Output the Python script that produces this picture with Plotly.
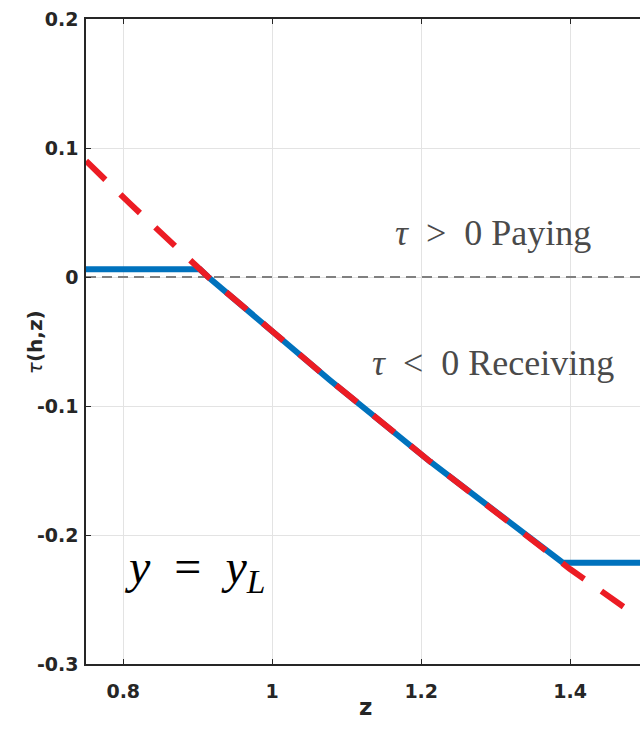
import plotly.graph_objects as go

# Axis extents and ticks
z_range = [0.75, 1.4937]
tau_range = [-0.3, 0.2]
z_ticks = [0.8, 1.0, 1.2, 1.4]
z_tick_text = ["0.8", "1", "1.2", "1.4"]
tau_ticks = [-0.3, -0.2, -0.1, 0.0, 0.1, 0.2]
tau_tick_text = ["-0.3", "-0.2", "-0.1", "0", "0.1", "0.2"]

# Unconstrained transfer schedule (red dashed)
z_free = [0.75, 0.8087, 0.903, 0.914, 1.0, 1.0775, 1.2117, 1.39, 1.3997, 1.4775, 1.4937]
tau_free = [0.090, 0.057, 0.006, 0.0, -0.042, -0.080, -0.143, -0.2215, -0.2264, -0.258, -0.265]

# Bounded transfer schedule (blue solid)
z_bound = [0.75, 0.903, 0.914, 1.0, 1.0775, 1.2117, 1.39, 1.4937]
tau_bound = [0.006, 0.006, 0.0, -0.042, -0.080, -0.143, -0.2215, -0.2215]

# Zero reference
z_zero = [0.75, 1.4937]
tau_zero = [0.0, 0.0]

axis_col = "#262626"
sans = "DejaVu Sans, Liberation Sans, sans-serif"
tick_font = dict(family=sans, size=19, color=axis_col, weight="bold")

fig = go.Figure()
fig.add_trace(go.Scatter(x=z_zero, y=tau_zero, mode="lines",
                         line=dict(color="#808080", width=2, dash="10px,6px"),
                         showlegend=False, hoverinfo="skip"))
fig.add_trace(go.Scatter(x=z_bound, y=tau_bound, mode="lines",
                         line=dict(color="#0072BD", width=6),
                         showlegend=False))
fig.add_trace(go.Scatter(x=z_free, y=tau_free, mode="lines",
                         line=dict(color="#EC1C24", width=6, dash="27px,21px"),
                         showlegend=False))
# top axis for the boxed frame
fig.add_trace(go.Scatter(x=z_zero, y=tau_zero, xaxis="x2", mode="lines",
                         line=dict(width=0), showlegend=False, hoverinfo="skip"))

fig.update_layout(
    width=640, height=736,
    margin=dict(l=86, r=0, t=19, b=72),
    plot_bgcolor="white", paper_bgcolor="white",
    xaxis=dict(range=z_range, tickvals=z_ticks, ticktext=z_tick_text,
               showgrid=True, gridcolor="#e3e3e3", gridwidth=1,
               zeroline=False, showline=True, linecolor=axis_col, linewidth=1.5,
               ticks="inside", ticklen=5, tickcolor=axis_col, tickwidth=1.2,
               tickfont=tick_font, ticklabelstandoff=9),
    xaxis2=dict(range=z_range, overlaying="x", side="top", tickvals=z_ticks,
                showticklabels=False, showgrid=False, zeroline=False,
                showline=True, linecolor=axis_col, linewidth=1.5,
                ticks="inside", ticklen=5, tickcolor=axis_col, tickwidth=1.2),
    yaxis=dict(range=tau_range, tickvals=tau_ticks, ticktext=tau_tick_text,
               showgrid=True, gridcolor="#e3e3e3", gridwidth=1,
               zeroline=False, showline=True, linecolor=axis_col, linewidth=1.5,
               ticks="inside", ticklen=5, tickcolor=axis_col, tickwidth=1.2,
               tickfont=tick_font, ticklabelstandoff=2),
)

serif = "Liberation Serif, DejaVu Serif, serif"
fig.add_annotation(x=1.297, y=0.034, xref="x", yref="y", showarrow=False,
                   text="<i>τ</i>&nbsp; >&nbsp; 0 Paying",
                   font=dict(family=serif, size=36, color="#4a4a4a"))
fig.add_annotation(x=1.296, y=-0.067, xref="x", yref="y", showarrow=False,
                   text="<i>τ</i>&nbsp; <&nbsp; 0 Receiving",
                   font=dict(family=serif, size=36, color="#4a4a4a"))
fig.add_annotation(x=0.895, y=-0.227, xref="x", yref="y", showarrow=False,
                   text="<i>y</i>&nbsp; =&nbsp; <i>y</i><sub><i>L</i></sub>",
                   font=dict(family=serif, size=48, color="black"))

# axis titles
fig.add_annotation(x=(365 - 86) / 554, y=(664 - 722) / 645, xref="paper", yref="paper",
                   showarrow=False, text="z",
                   font=dict(family=sans, size=23, color=axis_col, weight="bold"))
fig.add_annotation(x=(21 - 86) / 554, y=0.499, xref="paper", yref="paper",
                   showarrow=False, textangle=-90,
                   text="<i style='font-weight:normal'>τ</i>(h,z)",
                   font=dict(family=sans, size=20, color=axis_col, weight="bold"))

fig.write_html("out.html")
